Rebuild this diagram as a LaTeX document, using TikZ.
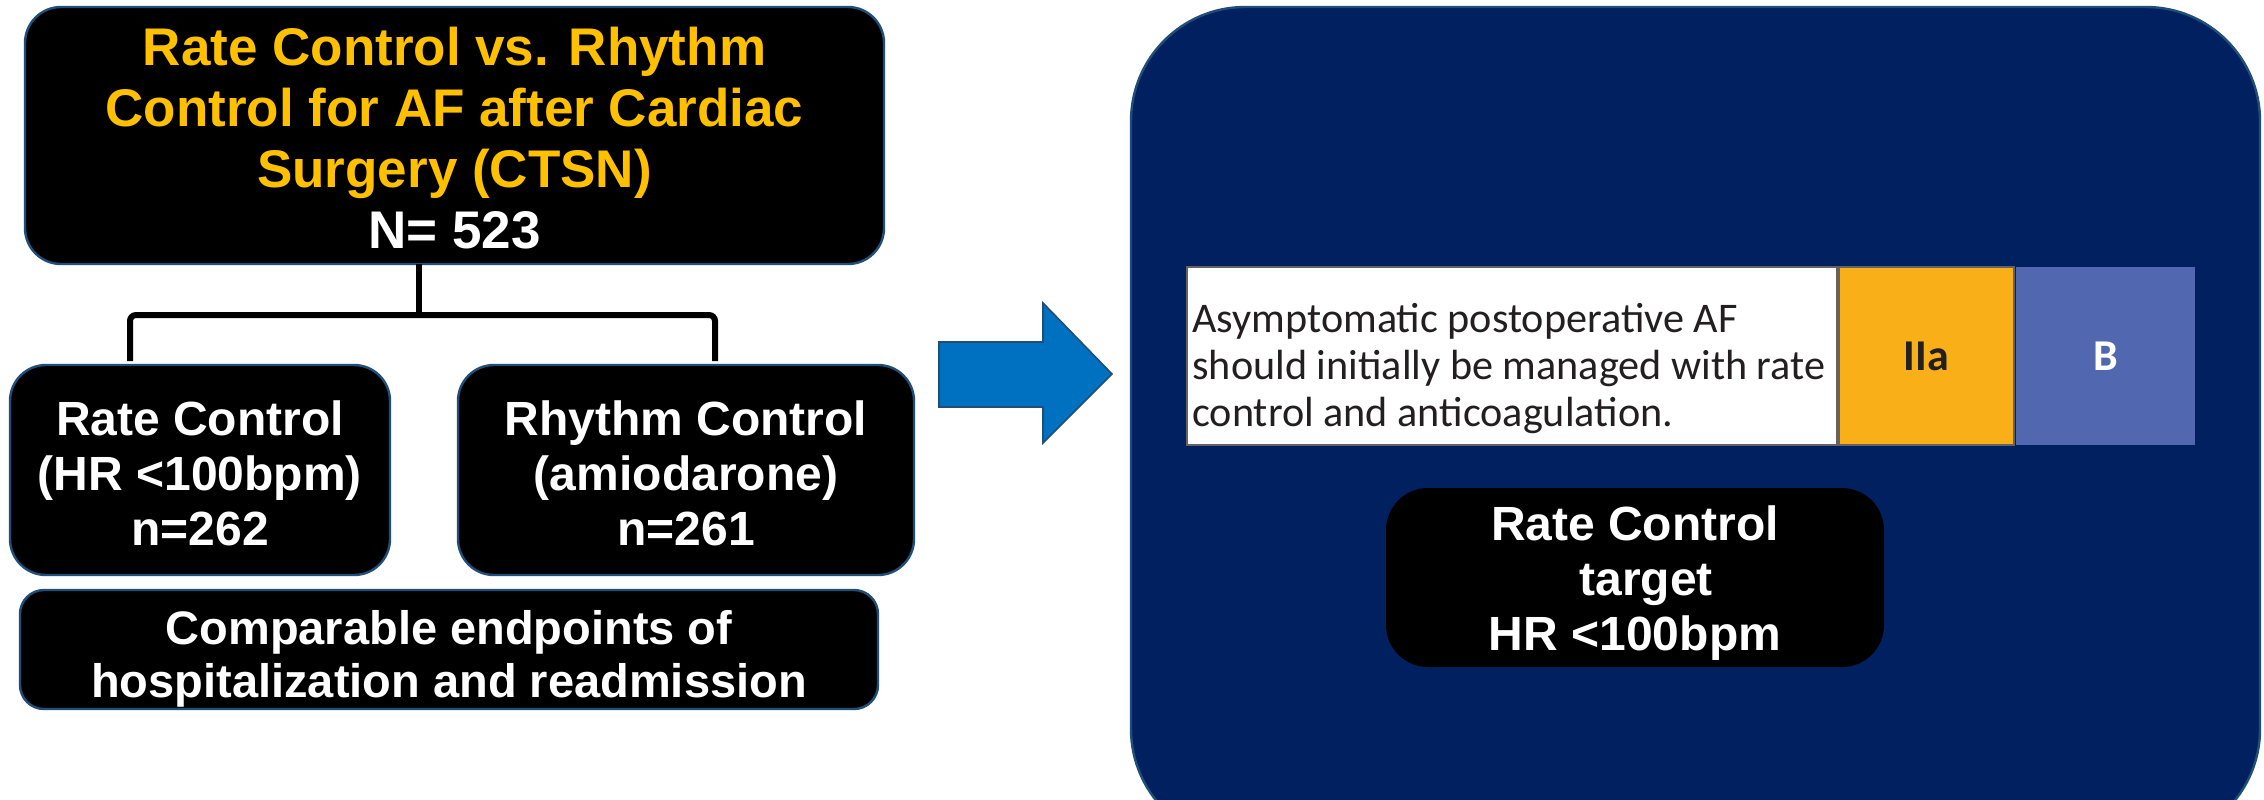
\documentclass[tikz,border=0pt]{standalone}
\usepackage{fontspec}
\setmainfont{Liberation Sans}
\newfontfamily\gillfont{Carlito}
\definecolor{navy}{HTML}{002060}
\definecolor{gold}{HTML}{FFC000}
\definecolor{edgeblue}{HTML}{1F4E79}
\definecolor{arrowblue}{HTML}{0070C0}
\definecolor{iiaorange}{HTML}{F8AF18}
\definecolor{bblue}{HTML}{5168B0}
\definecolor{ink}{HTML}{231F20}
\tikzset{
  blackbox/.style={fill=black, draw=edgeblue, line width=1.2pt, inner sep=0pt},
  boxtext/.style={text=white, align=center, inner sep=0pt},
  conn/.style={draw=black, line width=3pt, rounded corners=3pt},
  cell/.style={minimum height=89pt, inner sep=0pt, draw=ink!70, line width=0.6pt},
}
\begin{document}
\begin{tikzpicture}[x=0.5pt,y=-0.5pt]
\useasboundingbox (0,0) rectangle (2264,799);
\fill[white] (0,0) rectangle (2264,799);
% right panel
\begin{scope}
\clip (0,0) rectangle (2264,799);
\draw[fill=navy, draw=edgeblue, line width=1.2pt, rounded corners=57pt] (1131,7) rectangle (2260,843);
\end{scope}
% top box
\node[blackbox, minimum width=429.5pt, minimum height=128.5pt, rounded corners=18pt] (top) at (454.5,135.5) {};
\node[boxtext, font=\fontsize{26.5}{30.5}\selectfont\bfseries] (toptxt) at ([yshift=-1.5pt]top.center)
  {\textcolor{gold}{Rate Control vs. Rhythm}\\
   \textcolor{gold}{Control for AF after Cardiac}\\
   \textcolor{gold}{Surgery (CTSN)}\\
   N= 523};
\node[blackbox, minimum width=190pt, minimum height=105pt, rounded corners=18pt] (rate) at (200,470) {};
\node[boxtext, font=\fontsize{24}{27.5}\selectfont\bfseries] (ratetxt) at ([yshift=-1.5pt]rate.center)
  {Rate Control\\(HR <100bpm)\\n=262};
\node[blackbox, minimum width=228pt, minimum height=105pt, rounded corners=18pt] (rhythm) at (686,470) {};
\node[boxtext, font=\fontsize{24}{27.5}\selectfont\bfseries] (rhythmtxt) at ([yshift=-1.5pt]rhythm.center)
  {Rhythm Control\\(amiodarone)\\n=261};
\node[blackbox, minimum width=429pt, minimum height=59.5pt, rounded corners=12pt] (endp) at (449,649.5) {};
\node[boxtext, font=\fontsize{23.5}{26.5}\selectfont\bfseries] (endptxt) at ([yshift=-4.5pt]endp.center)
  {Comparable endpoints of\\hospitalization and readmission};
% connectors
\coordinate (t0) at (419,264);
\coordinate (b0) at (419,315);
\coordinate (bl) at (130,315);
\coordinate (br) at (715,315);
\coordinate (la) at (130,361);
\coordinate (ra) at (715,361);
\draw[conn] (t0) -- (b0);
\draw[conn] (la) -- (bl) -- (br) -- (ra);
% arrow
\draw[fill=arrowblue, draw=edgeblue, line width=0.8pt] (939,342) -- (1043,342) -- (1043,303) -- (1112,374) -- (1043,443) -- (1043,407) -- (939,407) -- cycle;
% table
\node[cell, fill=white, minimum width=325pt] (txt) at (1512,356) {};
\node[anchor=west, align=left, text=ink, inner sep=0pt,
      font=\gillfont\fontsize{21.1}{23.5}\selectfont] (txtlbl) at (1192,369)
  {Asymptomatic postoperative AF\\should initially be managed with rate\\control and anticoagulation.};
\node[cell, fill=iiaorange, minimum width=87.5pt, text=ink,
      font=\gillfont\bfseries\fontsize{22}{24}\selectfont] (cls) at (1926.5,356) {IIa};
\node[cell, fill=bblue, minimum width=89.5pt, draw=none, text=white,
      font=\gillfont\bfseries\fontsize{22}{24}\selectfont] (lvl) at (2105.5,356) {B};
% target box
\node[fill=black, inner sep=0pt, minimum width=249pt, minimum height=89.5pt, rounded corners=21pt] (target) at (1635,577.5) {};
\node[boxtext, font=\fontsize{24}{27.5}\selectfont\bfseries] (targettxt) at ([yshift=-3pt]target.center)
  {Rate Control\\\hspace*{11pt}target\\HR <100bpm};
\end{tikzpicture}
\end{document}
